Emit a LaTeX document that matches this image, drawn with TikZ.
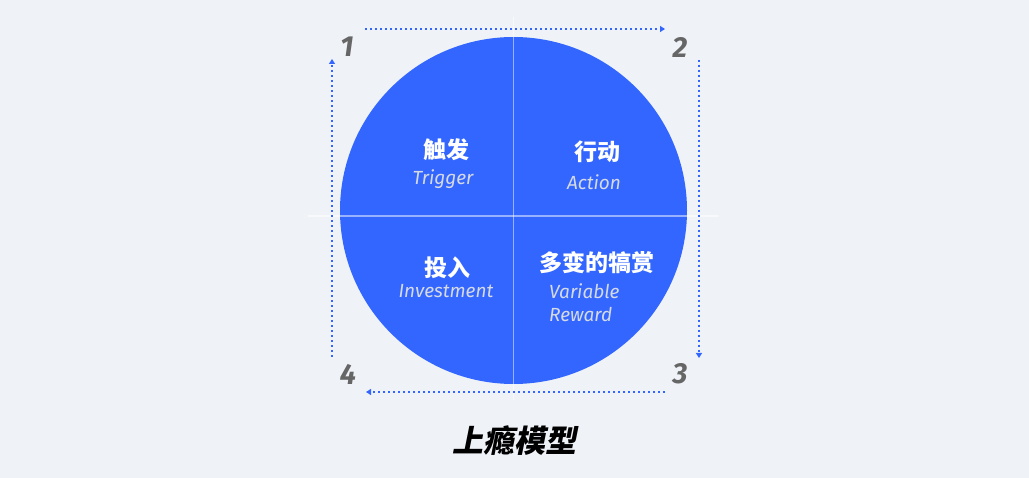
\documentclass[tikz,border=0pt]{standalone}
\usepackage{fontspec}
\setmainfont{Fira Sans}
\newfontfamily\cjk{Noto Sans CJK SC}
\newfontfamily\cjkslant[FakeSlant=0.2]{Noto Sans CJK SC}
\newfontfamily\latin{Fira Sans}
\usetikzlibrary{arrows.meta}
\definecolor{bg}{HTML}{EFF3F8}
\definecolor{blue}{HTML}{3366FF}
\definecolor{numgray}{HTML}{666666}
\definecolor{engray}{HTML}{D6DAE4}
\begin{document}
\begin{tikzpicture}[x=1pt,y=-1pt,
  cn/.style={font=\cjk\bfseries\fontsize{23}{25}\selectfont, text=white, inner sep=0pt},
  en/.style={font=\latin\itshape\fontsize{19}{21}\selectfont, text=engray, inner sep=0pt},
  num/.style={font=\latin\itshape\bfseries\fontsize{29}{30}\selectfont, text=numgray, inner sep=0pt},
  flow/.style={blue, line width=2pt, dash pattern=on 2pt off 3pt, -{Triangle[length=5pt,width=6pt]}},
  divider/.style={white, opacity=0.5, line width=1.2pt}]
\fill[bg] (0,0) rectangle (1029,478);
\useasboundingbox (0,0) rectangle (1029,478);
\node[circle, fill=blue, minimum size=347pt, inner sep=0pt] (c) at (513.5,210.5) {};
\coordinate (hl) at (308,216);
\coordinate (hr) at (718,216);
\coordinate (vt) at (513.5,17);
\coordinate (vb) at (513.5,400);
\draw[divider] (hl) -- (hr);
\draw[divider] (vt) -- (vb);
% flow arrows
\coordinate (t1) at (365,29); \coordinate (t2) at (665,29);
\coordinate (r1) at (699,60); \coordinate (r2) at (699,358);
\coordinate (b1) at (665,392); \coordinate (b2) at (366,392);
\coordinate (l1) at (332,357); \coordinate (l2) at (332,59);
\draw[flow] (t1) -- (t2);
\draw[flow] (r1) -- (r2);
\draw[flow] (b1) -- (b2);
\draw[flow] (l1) -- (l2);
% numbers
\node[num] (n1) at (347,47) {1};
\node[num] (n2) at (680,47) {2};
\node[num] (n3) at (680,374) {3};
\node[num] (n4) at (348,374) {4};
% quadrant labels
\node[cn] (q1) at (446,150) {触发};
\node[en] (q1e) at (443,179) {Trigger};
\node[cn] (q2) at (597,152) {行动};
\node[en] (q2e) at (594,182) {Action};
\node[cn] (q3) at (447,268) {投入};
\node[en] (q3e) at (446,291) {Investment};
\node[cn] (q4) at (597,263) {多变的犒赏};
\node[en, anchor=west] (q4e) at (549,291) {Variable};
\node[en, anchor=west] (q4f) at (549,315) {Reward};
% title
\node[font=\cjkslant\bfseries\fontsize{31}{33}\selectfont, text=black, inner sep=0pt] (title) at (514,441) {上瘾模型};
\end{tikzpicture}
\end{document}
